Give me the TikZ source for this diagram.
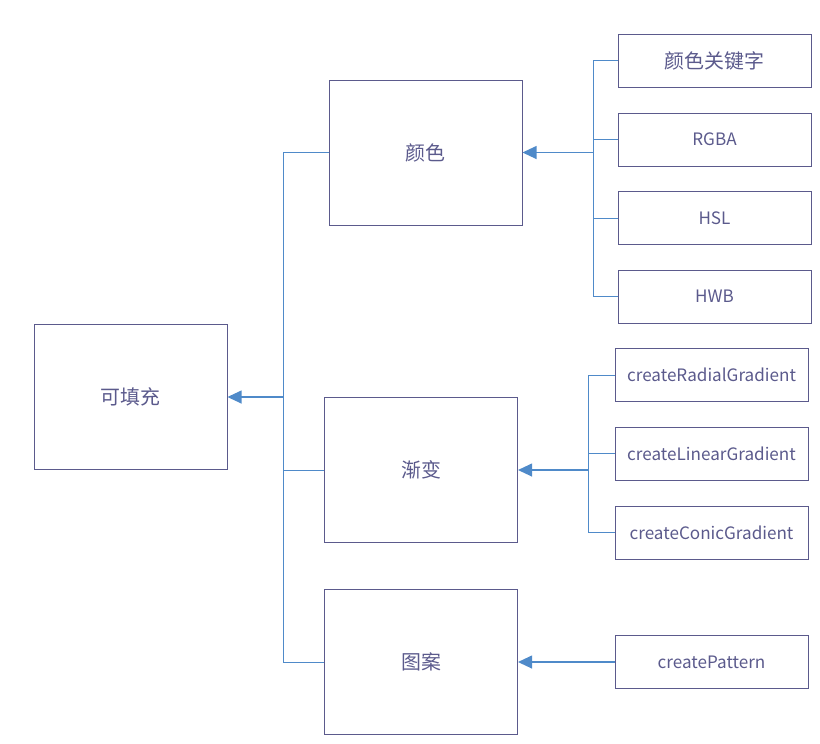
\documentclass[tikz,border=0pt]{standalone}
\usepackage{fontspec}
\setmainfont{Noto Sans CJK SC}
\usetikzlibrary{arrows.meta}
\definecolor{boxline}{HTML}{5B5A8C}
\definecolor{linkblue}{HTML}{4F8AC9}

\begin{document}
\begin{tikzpicture}[x=0.03cm, y=-0.03cm, >={Triangle[length=12pt, width=11pt]},
    bigbox/.style={draw=boxline, line width=0.8pt, minimum width=5.79cm, minimum height=4.35cm, inner sep=0pt, text=boxline, font=\fontsize{17}{20}\selectfont},
    smallbox/.style={draw=boxline, line width=0.8pt, minimum width=5.79cm, minimum height=1.59cm, inner sep=0pt, text=boxline, font=\fontsize{17}{20}\selectfont},
    latin/.style={font=\fontsize{14.6}{17}\selectfont},
    link/.style={draw=linkblue, line width=0.8pt},
    arrowlink/.style={link, line width=1.2pt, ->, linkblue}]
    \useasboundingbox (0,0) rectangle (820,743);

    % main boxes
    \node[bigbox] (fill) at (130.5,397) {可填充};
    \node[bigbox] (color) at (425.5,152.5) {颜色};
    \node[bigbox] (grad) at (421,470) {渐变};
    \node[bigbox] (pat) at (421,662) {图案};

    % colour kinds
    \node[smallbox] (kw) at (714.5,60.5) {颜色关键字};
    \node[smallbox, latin] (rgba) at (714.5,139.5) {RGBA};
    \node[smallbox, latin] (hsl) at (714.5,218) {HSL};
    \node[smallbox, latin] (hwb) at (714.5,296.5) {HWB};

    % gradients and pattern
    \node[smallbox, latin] (rad) at (711.5,375) {createRadialGradient};
    \node[smallbox, latin] (lin) at (711.5,453.5) {createLinearGradient};
    \node[smallbox, latin] (con) at (711.5,532.5) {createConicGradient};
    \node[smallbox, latin] (cpat) at (711.5,662) {createPattern};

    \coordinate (fj) at (283,397);
    \coordinate (cj) at (593,152.5);
    \coordinate (gj) at (588,470);

    \foreach \n in {color,grad,pat}
        \draw[link] (\n.west) -| (fj);
    \draw[arrowlink] (fj) -- (fill.east);

    \foreach \n in {kw,rgba,hsl,hwb}
        \draw[link] (\n.west) -| (cj);
    \draw[arrowlink] (cj) -- (color.east);

    \foreach \n in {rad,lin,con}
        \draw[link] (\n.west) -| (gj);
    \draw[arrowlink] (gj) -- (grad.east);

    \draw[arrowlink] (cpat.west) -- (pat.east);
\end{tikzpicture}
\end{document}
